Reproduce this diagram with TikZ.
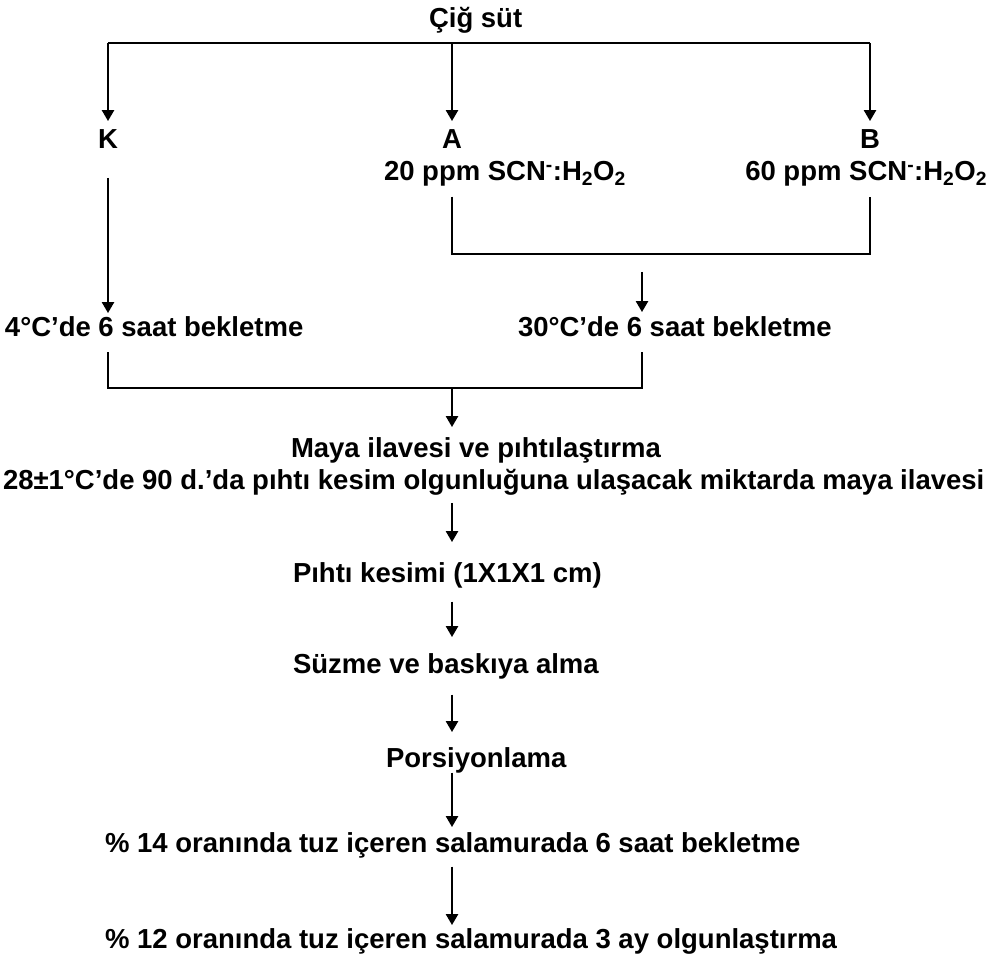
\documentclass[tikz,border=0pt]{standalone}
\usepackage{fontspec}
\setmainfont{Liberation Sans}
\usetikzlibrary{positioning,arrows.meta}

\begin{document}
\begin{tikzpicture}[x=1pt,y=-1pt,line width=2.4pt,
  every node/.style={font=\fontsize{27.5}{33}\selectfont\bfseries,inner sep=0pt,outer sep=0pt,anchor=base west},
  arr/.style={-{Triangle[length=11pt,width=12pt]}}]
\useasboundingbox (0,0) rectangle (991,960);
\node (cig) at (429,28) {Çiğ süt};
\coordinate (ust) at (452,43);
\node[anchor=base] (K) at (108,149) {K};
\node[anchor=base] (A) at (452,149) {A};
\node[anchor=base] (B) at (870,149) {B};
\node (Adoz) at (384,181) {20 ppm SCN\textsuperscript{-}:H\textsubscript{2}O\textsubscript{2}};
\node[anchor=base east] (Bdoz) at (987,181) {60 ppm SCN\textsuperscript{-}:H\textsubscript{2}O\textsubscript{2}};
\node (dort) at (5,336) {4°C'de 6 saat bekletme};
\node (otuz) at (518,336) {30°C'de 6 saat bekletme};
\coordinate (ab) at (642,254);
\coordinate (alt) at (452,388);
\node (maya) at (291,457) {Maya ilavesi ve pıhtılaştırma};
\node (uzun) at (3,489) {28±1°C'de 90 d.'da pıhtı kesim olgunluğuna ulaşacak miktarda maya ilavesi};
\node (pihti) at (293,582) {Pıhtı kesimi (1X1X1 cm)};
\node (suzme) at (293,673) {Süzme ve baskıya alma};
\node (pors) at (386,767) {Porsiyonlama};
\node (tuz14) at (105,852) {\% 14 oranında tuz içeren salamurada 6 saat bekletme};
\node (tuz12) at (105,948) {\% 12 oranında tuz içeren salamurada 3 ay olgunlaştırma};

\draw (K |- ust) -- (B |- ust);
\foreach \n in {K,A,B}
  \draw[arr,shorten >=9pt] (\n |- ust) -- (\n);
\draw[arr,shorten <=29pt,shorten >=3pt] (K) -- (K |- dort.north);
\draw[shorten <=10pt,shorten >=10pt] (A |- Adoz.south) |- (ab) -| (B |- Bdoz.south);
\draw[arr,shorten <=18pt,shorten >=4pt] (ab) -- (ab |- otuz.north);
\draw[shorten <=16pt,shorten >=16pt] (K |- dort.south) |- (alt) -| (ab |- otuz.south);
\draw[arr,shorten >=10pt] (alt) -- (alt |- maya.north);
\foreach \a/\b/\p/\q in {uzun/pihti/8/20,pihti/suzme/14/16,suzme/pors/16/15,pors/tuz14/0/5,tuz14/tuz12/9/3}
  \draw[arr,shorten <=\p pt,shorten >=\q pt] (alt |- \a.south) -- (alt |- \b.north);
\end{tikzpicture}
\end{document}
